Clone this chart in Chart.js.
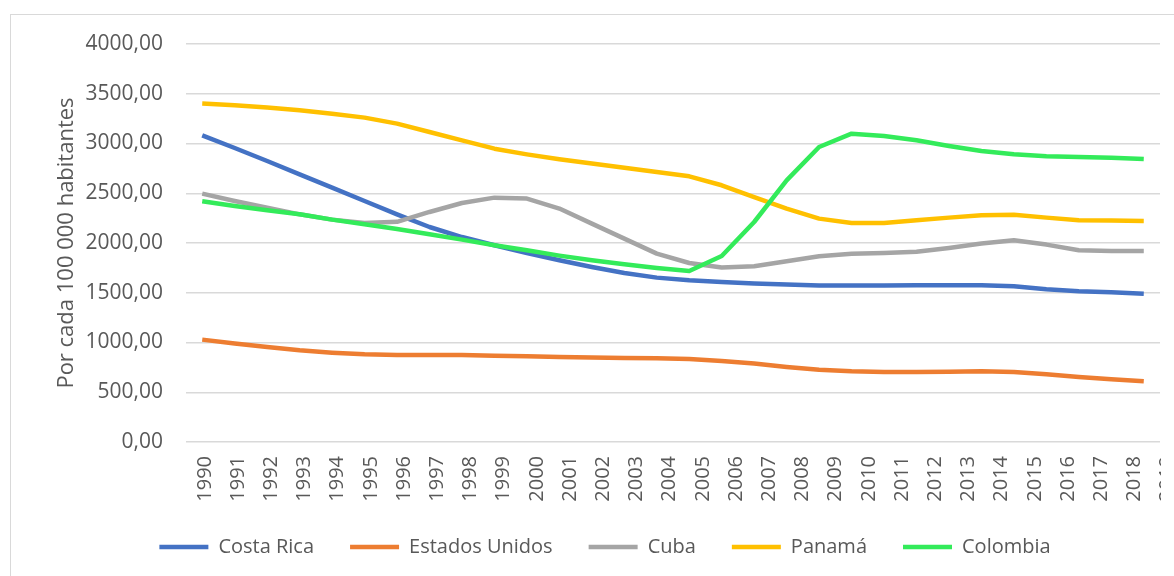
<!DOCTYPE html>
<html><head><meta charset="utf-8">
<script src="https://cdn.jsdelivr.net/npm/chart.js@4.4.1/dist/chart.umd.min.js"></script>
<style>
html,body{margin:0;padding:0;background:#fff;overflow:hidden}
#wrap{position:relative;width:1174px;height:576px;overflow:hidden}
#frame{position:absolute;left:10px;top:14px;width:1300px;height:700px;border:1.5px solid #d9d9d9;box-sizing:border-box}
#clip{position:absolute;left:0;top:0;width:1161px;height:576px;overflow:hidden}
canvas{position:absolute;left:0;top:0}
</style></head><body>
<div id="wrap"><div id="frame"></div><div id="clip"><canvas id="c" width="1174" height="576"></canvas></div></div>
<script>
const years = ['1990','1991','1992','1993','1994','1995','1996','1997','1998','1999','2000','2001','2002','2003','2004','2005','2006','2007','2008','2009','2010','2011','2012','2013','2014','2015','2016','2017','2018','2019'];
const costaRica = [3082,2955,2824,2690,2557,2422,2288,2161,2060,1977,1900,1826,1759,1699,1652,1625,1608,1592,1582,1572,1572,1572,1575,1575,1575,1565,1535,1515,1505,1491];
const estadosUnidos = [1029,989,955,922,898,881,875,875,875,868,861,854,848,844,841,834,814,788,754,727,711,704,704,707,711,704,680,653,630,610];
const cuba = [2496,2422,2355,2288,2235,2201,2213,2312,2402,2456,2446,2346,2195,2044,1893,1799,1753,1766,1816,1866,1893,1900,1913,1950,1994,2027,1984,1927,1920,1920];
const panama = [3401,3384,3361,3334,3300,3260,3200,3116,3032,2948,2891,2841,2798,2757,2713,2670,2580,2462,2345,2245,2201,2201,2228,2255,2278,2285,2255,2228,2225,2221];
const colombia = [2419,2372,2329,2288,2235,2188,2141,2087,2034,1977,1927,1873,1826,1786,1749,1719,1869,2211,2630,2965,3099,3075,3032,2975,2925,2891,2871,2864,2858,2844];
const seriesNames = ['Costa Rica','Estados Unidos','Cuba','Panamá','Colombia'];
const seriesColors = ['#4472C4','#ED7D31','#A5A5A5','#FFC000','#33EB5A'];
const yTitle = 'Por cada 100 000 habitantes';

const FONT = "'Open Sans', sans-serif";
const GREY = '#595959';
const values = [costaRica, estadosUnidos, cuba, panama, colombia];
const datasets = values.map((v, i) => ({
  label: seriesNames[i], data: v, borderColor: seriesColors[i], backgroundColor: seriesColors[i],
  borderWidth: 4.5, pointRadius: 0, pointStyle: 'line', fill: false, tension: 0,
  order: values.length - i
}));

new Chart(document.getElementById('c'), {
  type: 'line',
  data: { labels: years, datasets },
  options: {
    responsive: false, animation: false, devicePixelRatio: 1,
    layout: { padding: { left: 50, right: 14, top: 44, bottom: 9 } },
    elements: { line: { borderCapStyle: 'butt', borderJoinStyle: 'round' } },
    plugins: {
      tooltip: { enabled: false },
      legend: { position: 'bottom',
        labels: { usePointStyle: true, pointStyleWidth: 49, padding: 36, color: GREY,
          font: { family: FONT, size: 20 }, sort: (a, b) => a.datasetIndex - b.datasetIndex } }
    },
    scales: {
      x: { type: 'category', display: false, offset: true },
      xl: { type: 'linear', position: 'bottom', min: 1989.43, max: 2018.77,
        grid: { display: false, drawTicks: false }, border: { display: false },
        ticks: { autoSkip: false, minRotation: 90, maxRotation: 90, padding: 14, color: GREY,
          font: { family: FONT, size: 20 }, callback: v => String(v) },
        afterBuildTicks: s => { s.ticks = years.map(y => ({ value: Number(y) })); },
        afterFit: s => { s.height = 59; s.paddingLeft = 0; s.paddingRight = 0; } },
      y: { min: 0, max: 4000,
        ticks: { stepSize: 500, padding: 23, color: GREY, font: { family: FONT, size: 21 },
          callback: v => Number(v).toFixed(2).replace('.', ',') },
        grid: { color: '#D9D9D9', lineWidth: 1.5, drawTicks: false }, border: { display: false },
        title: { display: true, text: yTitle, color: GREY, font: { family: FONT, size: 22 }, padding: { top: 4, bottom: 0 } },
        afterFit: s => { s.width = 136; } }
    }
  }
});
</script>
</body></html>
